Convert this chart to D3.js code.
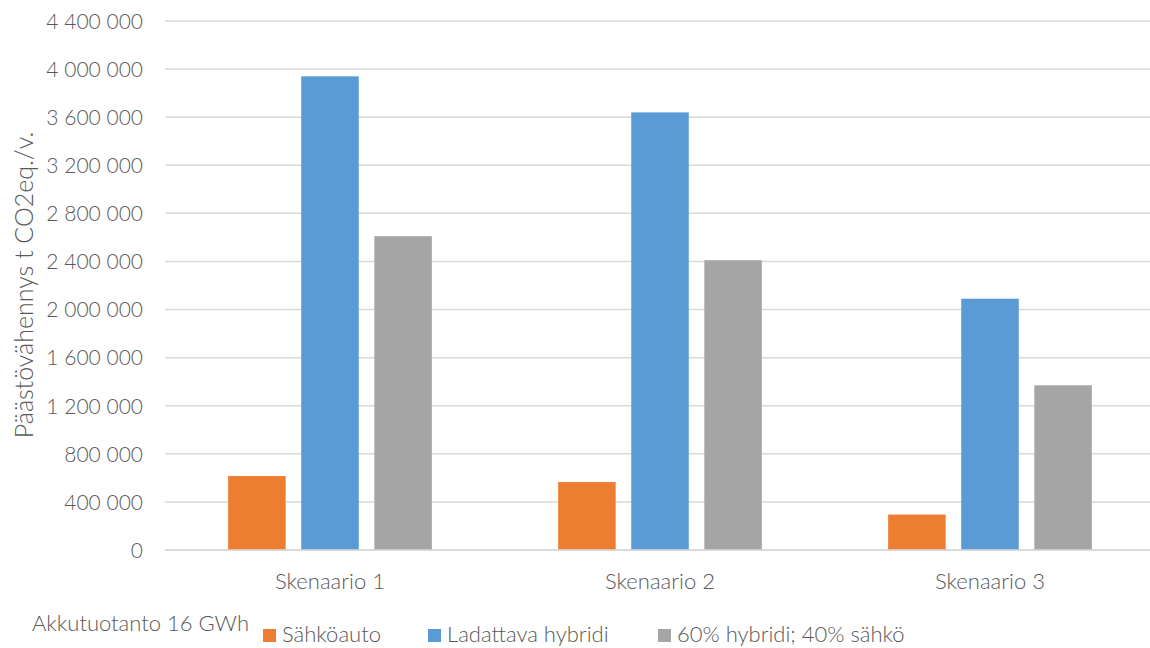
<!DOCTYPE html>
<html>
<head>
<meta charset="utf-8">
<script src="https://cdn.jsdelivr.net/npm/d3@7"></script>
<style>
  html, body { margin: 0; padding: 0; background: #fff; }
  svg { display: block; }
  text { font-family: Lato, "Open Sans", sans-serif; fill: #595959; font-weight: 300; }
</style>
</head>
<body>
<svg id="chart" width="1150" height="648"></svg>
<script>
const categories = ["Skenaario 1", "Skenaario 2", "Skenaario 3"];
const seriesNames = ["Sähköauto", "Ladattava hybridi", "60% hybridi; 40% sähkö"];
const sahkoauto = [615000, 565000, 295000];
const ladattavaHybridi = [3940000, 3640000, 2090000];
const hybridi60 = [2610000, 2410000, 1370000];
const yTicks = [0, 400000, 800000, 1200000, 1600000, 2000000, 2400000, 2800000, 3200000, 3600000, 4000000, 4400000];
const yTitle = "Päästövähennys t CO2eq./v.";
const legendTitle = "Akkutuotanto 16 GWh";
const colors = ["#ED7D31", "#5B9BD5", "#A5A5A5"];

const seriesValues = [sahkoauto, ladattavaHybridi, hybridi60];
const rows = categories.map((c, i) => ({
  cat: c,
  vals: seriesNames.map((s, j) => ({ series: s, value: seriesValues[j][i], color: colors[j] }))
}));

const svg = d3.select("#chart");
const plotLeft = 165, plotRight = 1155, plotTop = 21, plotBottom = 550;

const y = d3.scaleLinear().domain([0, 4400000]).range([plotBottom, plotTop]);
const x0 = d3.scaleBand().domain(categories).range([plotLeft, plotRight]).padding(0);
const groupW = 203.7;
const off = (x0.bandwidth() - groupW) / 2;
const x1 = d3.scaleBand().domain(seriesNames).range([off, off + groupW]).paddingInner(0.213).paddingOuter(0);

const fmt = d3.formatLocale({ decimal: ",", thousands: " ", grouping: [3], currency: ["", ""] }).format(",");

// y axis labels
const yAxis = d3.axisLeft(y).tickValues(yTicks).tickSize(0).tickPadding(0).tickFormat(fmt);
const gAxis = svg.append("g").attr("transform", `translate(143,0)`).call(yAxis);
gAxis.select(".domain").remove();
gAxis.selectAll("text").attr("font-size", 21).attr("fill", "#595959")
  .attr("font-family", "Lato, 'Open Sans', sans-serif").attr("font-weight", 300).attr("dy", "0.35em");

// gridlines
svg.append("g").selectAll("line").data(yTicks).join("line")
  .attr("x1", plotLeft).attr("x2", 1150)
  .attr("y1", d => y(d)).attr("y2", d => y(d))
  .attr("stroke", "#D9D9D9").attr("stroke-width", 1.5);

// bars
const groups = svg.append("g").selectAll("g").data(rows).join("g")
  .attr("transform", d => `translate(${x0(d.cat)},0)`);
groups.selectAll("rect").data(d => d.vals).join("rect")
  .attr("x", d => x1(d.series))
  .attr("width", x1.bandwidth())
  .attr("y", d => y(d.value))
  .attr("height", d => y(0) - y(d.value))
  .attr("fill", d => d.color);

// baseline
svg.append("line").attr("x1", plotLeft).attr("x2", 1150)
  .attr("y1", y(0)).attr("y2", y(0)).attr("stroke", "#D9D9D9").attr("stroke-width", 1.5);

// category labels
const xAxis = d3.axisBottom(x0).tickSize(0).tickPadding(0);
const gx = svg.append("g").attr("transform", `translate(0,${plotBottom})`).call(xAxis);
gx.select(".domain").remove();
gx.selectAll("text").attr("font-size", 22).attr("fill", "#595959")
  .attr("font-family", "Lato, 'Open Sans', sans-serif").attr("font-weight", 300).attr("dy", null).attr("y", 39);

// y title
svg.append("text")
  .attr("transform", `translate(33,285) rotate(-90)`)
  .attr("text-anchor", "middle")
  .attr("font-size", 25)
  .text(yTitle);

// legend
svg.append("text").attr("x", 32).attr("y", 631).attr("font-size", 22).text(legendTitle);
const legendX = [263, 428, 658];
const lg = svg.append("g").selectAll("g").data(seriesNames).join("g")
  .attr("transform", (d, i) => `translate(${legendX[i]},629)`);
lg.append("rect").attr("width", 13).attr("height", 13).attr("fill", (d, i) => colors[i]);
lg.append("text").attr("x", 19).attr("y", 13).attr("font-size", 22).text(d => d);
</script>
</body>
</html>
